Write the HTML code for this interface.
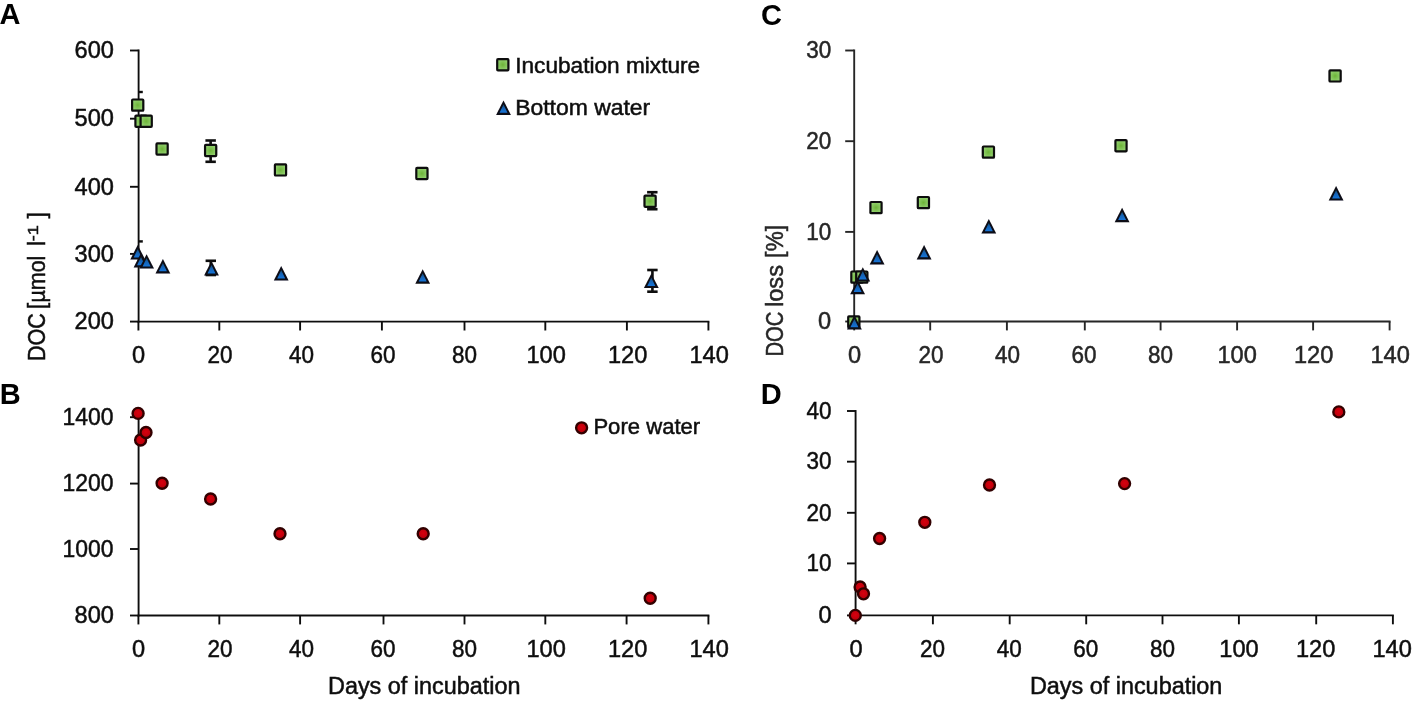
<!DOCTYPE html>
<html><head><meta charset="utf-8"><title>Figure</title>
<style>html,body{margin:0;padding:0;background:#fff;}svg{display:block;}text{font-family:'Liberation Sans', sans-serif;}</style>
</head><body>
<svg width="1418" height="707" viewBox="0 0 1418 707">
<defs>
<radialGradient id="gg" cx="50%" cy="50%" r="70%"><stop offset="0" stop-color="#6db438"/><stop offset="1" stop-color="#a2dc86"/></radialGradient>
<linearGradient id="bg" x1="0" y1="0" x2="0" y2="1"><stop offset="0" stop-color="#164a70"/><stop offset="0.45" stop-color="#1463b4"/><stop offset="1" stop-color="#1674d8"/></linearGradient>
<radialGradient id="rg" cx="50%" cy="45%" r="60%"><stop offset="0" stop-color="#d8000a"/><stop offset="1" stop-color="#b00008"/></radialGradient>
<filter id="bl" x="0" y="0" width="1418" height="707" filterUnits="userSpaceOnUse"><feGaussianBlur stdDeviation="0.7"/></filter>
</defs>
<rect width="1418" height="707" fill="#fff"/>
<g filter="url(#bl)">
<text x="-0.60" y="24.40" font-size="29" text-anchor="start" fill="#000" font-weight="bold">A</text>
<text x="-0.20" y="403.60" font-size="29" text-anchor="start" fill="#000" font-weight="bold">B</text>
<text x="760.90" y="24.70" font-size="29" text-anchor="start" fill="#000" font-weight="bold">C</text>
<text x="760.80" y="403.60" font-size="29" text-anchor="start" fill="#000" font-weight="bold">D</text>
<line x1="138.60" y1="49.55" x2="138.60" y2="322.55" stroke="#111" stroke-width="1.9" stroke-linecap="butt"/>
<line x1="137.65" y1="321.60" x2="709.35" y2="321.60" stroke="#111" stroke-width="1.9" stroke-linecap="butt"/>
<line x1="130.00" y1="50.50" x2="138.60" y2="50.50" stroke="#111" stroke-width="1.9" stroke-linecap="butt"/>
<text x="113.90" y="58.20" font-size="23.6" text-anchor="end" fill="#111" font-weight="normal" stroke="#111" stroke-width="0.5">600</text>
<line x1="130.00" y1="118.70" x2="138.60" y2="118.70" stroke="#111" stroke-width="1.9" stroke-linecap="butt"/>
<text x="113.90" y="126.40" font-size="23.6" text-anchor="end" fill="#111" font-weight="normal" stroke="#111" stroke-width="0.5">500</text>
<line x1="130.00" y1="186.80" x2="138.60" y2="186.80" stroke="#111" stroke-width="1.9" stroke-linecap="butt"/>
<text x="113.90" y="194.50" font-size="23.6" text-anchor="end" fill="#111" font-weight="normal" stroke="#111" stroke-width="0.5">400</text>
<line x1="130.00" y1="253.90" x2="138.60" y2="253.90" stroke="#111" stroke-width="1.9" stroke-linecap="butt"/>
<text x="113.90" y="261.60" font-size="23.6" text-anchor="end" fill="#111" font-weight="normal" stroke="#111" stroke-width="0.5">300</text>
<line x1="130.00" y1="321.60" x2="138.60" y2="321.60" stroke="#111" stroke-width="1.9" stroke-linecap="butt"/>
<text x="113.90" y="329.30" font-size="23.6" text-anchor="end" fill="#111" font-weight="normal" stroke="#111" stroke-width="0.5">200</text>
<line x1="138.40" y1="321.60" x2="138.40" y2="330.50" stroke="#111" stroke-width="1.9" stroke-linecap="butt"/>
<text x="138.60" y="363.30" font-size="23.6" text-anchor="middle" fill="#111" font-weight="normal" stroke="#111" stroke-width="0.5">0</text>
<line x1="219.30" y1="321.60" x2="219.30" y2="330.50" stroke="#111" stroke-width="1.9" stroke-linecap="butt"/>
<text x="220.10" y="363.30" font-size="23.6" text-anchor="middle" fill="#111" font-weight="normal" stroke="#111" stroke-width="0.5" textLength="25.0" lengthAdjust="spacingAndGlyphs">20</text>
<line x1="300.10" y1="321.60" x2="300.10" y2="330.50" stroke="#111" stroke-width="1.9" stroke-linecap="butt"/>
<text x="301.60" y="363.30" font-size="23.6" text-anchor="middle" fill="#111" font-weight="normal" stroke="#111" stroke-width="0.5" textLength="25.0" lengthAdjust="spacingAndGlyphs">40</text>
<line x1="381.90" y1="321.60" x2="381.90" y2="330.50" stroke="#111" stroke-width="1.9" stroke-linecap="butt"/>
<text x="383.10" y="363.30" font-size="23.6" text-anchor="middle" fill="#111" font-weight="normal" stroke="#111" stroke-width="0.5" textLength="25.0" lengthAdjust="spacingAndGlyphs">60</text>
<line x1="464.50" y1="321.60" x2="464.50" y2="330.50" stroke="#111" stroke-width="1.9" stroke-linecap="butt"/>
<text x="464.60" y="363.30" font-size="23.6" text-anchor="middle" fill="#111" font-weight="normal" stroke="#111" stroke-width="0.5" textLength="25.0" lengthAdjust="spacingAndGlyphs">80</text>
<line x1="545.30" y1="321.60" x2="545.30" y2="330.50" stroke="#111" stroke-width="1.9" stroke-linecap="butt"/>
<text x="546.10" y="363.30" font-size="23.6" text-anchor="middle" fill="#111" font-weight="normal" stroke="#111" stroke-width="0.5">100</text>
<line x1="626.90" y1="321.60" x2="626.90" y2="330.50" stroke="#111" stroke-width="1.9" stroke-linecap="butt"/>
<text x="627.60" y="363.30" font-size="23.6" text-anchor="middle" fill="#111" font-weight="normal" stroke="#111" stroke-width="0.5">120</text>
<line x1="708.40" y1="321.60" x2="708.40" y2="330.50" stroke="#111" stroke-width="1.9" stroke-linecap="butt"/>
<text x="709.10" y="363.30" font-size="23.6" text-anchor="middle" fill="#111" font-weight="normal" stroke="#111" stroke-width="0.5">140</text>
<g transform="translate(44.6,360.0) rotate(-90)" fill="#111" stroke="#111" stroke-width="0.5">
<text x="-1.0" y="0" font-size="23.0" textLength="47.8" lengthAdjust="spacingAndGlyphs">DOC</text>
<text x="50.7" y="0" font-size="23.0">[</text>
<text x="57.4" y="0" font-size="23.0" textLength="47.0" lengthAdjust="spacingAndGlyphs">µmol</text>
<text x="113.9" y="0" font-size="23.0">l</text>
<text x="118.8" y="-6.7" font-size="15" textLength="16.0" lengthAdjust="spacingAndGlyphs">-1</text>
<text x="141.5" y="0" font-size="23.0">]</text>
</g>
<line x1="138.60" y1="92.00" x2="142.80" y2="92.00" stroke="#0a0a0a" stroke-width="2.4" stroke-linecap="butt"/>
<line x1="210.65" y1="140.50" x2="210.65" y2="161.80" stroke="#0a0a0a" stroke-width="2.6" stroke-linecap="butt"/>
<line x1="205.45" y1="140.50" x2="215.85" y2="140.50" stroke="#0a0a0a" stroke-width="2.6" stroke-linecap="butt"/>
<line x1="205.45" y1="161.80" x2="215.85" y2="161.80" stroke="#0a0a0a" stroke-width="2.6" stroke-linecap="butt"/>
<line x1="652.30" y1="192.20" x2="652.30" y2="209.20" stroke="#0a0a0a" stroke-width="2.6" stroke-linecap="butt"/>
<line x1="647.10" y1="192.20" x2="657.50" y2="192.20" stroke="#0a0a0a" stroke-width="2.6" stroke-linecap="butt"/>
<line x1="647.10" y1="209.20" x2="657.50" y2="209.20" stroke="#0a0a0a" stroke-width="2.6" stroke-linecap="butt"/>
<rect x="132.10" y="99.50" width="11.2" height="11.2" rx="0.8" fill="url(#gg)" stroke="#0a0a0a" stroke-width="2.2"/>
<rect x="135.40" y="115.60" width="11.2" height="11.2" rx="0.8" fill="url(#gg)" stroke="#0a0a0a" stroke-width="2.2"/>
<rect x="140.60" y="115.60" width="11.2" height="11.2" rx="0.8" fill="url(#gg)" stroke="#0a0a0a" stroke-width="2.2"/>
<rect x="156.50" y="143.40" width="11.2" height="11.2" rx="0.8" fill="url(#gg)" stroke="#0a0a0a" stroke-width="2.2"/>
<rect x="205.05" y="144.95" width="11.2" height="11.2" rx="0.8" fill="url(#gg)" stroke="#0a0a0a" stroke-width="2.2"/>
<rect x="274.90" y="164.30" width="11.2" height="11.2" rx="0.8" fill="url(#gg)" stroke="#0a0a0a" stroke-width="2.2"/>
<rect x="416.30" y="167.90" width="11.2" height="11.2" rx="0.8" fill="url(#gg)" stroke="#0a0a0a" stroke-width="2.2"/>
<rect x="644.50" y="195.60" width="11.2" height="11.2" rx="0.8" fill="url(#gg)" stroke="#0a0a0a" stroke-width="2.2"/>
<line x1="138.60" y1="241.40" x2="142.80" y2="241.40" stroke="#0a0a0a" stroke-width="2.4" stroke-linecap="butt"/>
<line x1="210.80" y1="260.80" x2="210.80" y2="275.00" stroke="#0a0a0a" stroke-width="2.6" stroke-linecap="butt"/>
<line x1="205.60" y1="260.80" x2="216.00" y2="260.80" stroke="#0a0a0a" stroke-width="2.6" stroke-linecap="butt"/>
<line x1="205.60" y1="275.00" x2="216.00" y2="275.00" stroke="#0a0a0a" stroke-width="2.6" stroke-linecap="butt"/>
<line x1="652.40" y1="270.00" x2="652.40" y2="291.70" stroke="#0a0a0a" stroke-width="2.6" stroke-linecap="butt"/>
<line x1="647.20" y1="270.00" x2="657.60" y2="270.00" stroke="#0a0a0a" stroke-width="2.6" stroke-linecap="butt"/>
<line x1="647.20" y1="291.70" x2="657.60" y2="291.70" stroke="#0a0a0a" stroke-width="2.6" stroke-linecap="butt"/>
<polygon points="137.70,245.10 130.30,259.50 145.10,259.50" fill="#0b0b14"/>
<polygon points="137.70,249.00 133.70,257.40 141.70,257.40" fill="url(#bg)"/>
<polygon points="141.00,253.00 133.60,267.40 148.40,267.40" fill="#0b0b14"/>
<polygon points="141.00,256.90 137.00,265.30 145.00,265.30" fill="url(#bg)"/>
<polygon points="146.60,254.20 139.20,268.60 154.00,268.60" fill="#0b0b14"/>
<polygon points="146.60,258.10 142.60,266.50 150.60,266.50" fill="url(#bg)"/>
<polygon points="162.90,259.00 155.50,273.40 170.30,273.40" fill="#0b0b14"/>
<polygon points="162.90,262.90 158.90,271.30 166.90,271.30" fill="url(#bg)"/>
<polygon points="211.50,261.10 204.10,275.50 218.90,275.50" fill="#0b0b14"/>
<polygon points="211.50,265.00 207.50,273.40 215.50,273.40" fill="url(#bg)"/>
<polygon points="281.20,266.10 273.80,280.50 288.60,280.50" fill="#0b0b14"/>
<polygon points="281.20,270.00 277.20,278.40 285.20,278.40" fill="url(#bg)"/>
<polygon points="422.70,269.30 415.30,283.70 430.10,283.70" fill="#0b0b14"/>
<polygon points="422.70,273.20 418.70,281.60 426.70,281.60" fill="url(#bg)"/>
<polygon points="651.30,273.70 643.90,288.10 658.70,288.10" fill="#0b0b14"/>
<polygon points="651.30,277.60 647.30,286.00 655.30,286.00" fill="url(#bg)"/>
<rect x="497.20" y="59.10" width="11.2" height="11.2" rx="0.8" fill="url(#gg)" stroke="#0a0a0a" stroke-width="2.2"/>
<text x="515.20" y="72.80" font-size="21.6" text-anchor="start" fill="#111" font-weight="normal" stroke="#111" stroke-width="0.5" textLength="185.0" lengthAdjust="spacingAndGlyphs">Incubation mixture</text>
<polygon points="503.50,100.50 496.10,114.90 510.90,114.90" fill="#0b0b14"/>
<polygon points="503.50,104.40 499.50,112.80 507.50,112.80" fill="url(#bg)"/>
<text x="515.20" y="114.90" font-size="21.6" text-anchor="start" fill="#111" font-weight="normal" stroke="#111" stroke-width="0.5" textLength="135.0" lengthAdjust="spacingAndGlyphs">Bottom water</text>
<line x1="138.60" y1="416.05" x2="138.60" y2="616.45" stroke="#111" stroke-width="1.9" stroke-linecap="butt"/>
<line x1="137.65" y1="615.50" x2="709.35" y2="615.50" stroke="#111" stroke-width="1.9" stroke-linecap="butt"/>
<line x1="130.00" y1="417.20" x2="138.60" y2="417.20" stroke="#111" stroke-width="1.9" stroke-linecap="butt"/>
<text x="113.40" y="424.90" font-size="23.6" text-anchor="end" fill="#111" font-weight="normal" stroke="#111" stroke-width="0.5" textLength="51.0" lengthAdjust="spacingAndGlyphs">1400</text>
<line x1="130.00" y1="483.60" x2="138.60" y2="483.60" stroke="#111" stroke-width="1.9" stroke-linecap="butt"/>
<text x="113.40" y="491.30" font-size="23.6" text-anchor="end" fill="#111" font-weight="normal" stroke="#111" stroke-width="0.5" textLength="51.0" lengthAdjust="spacingAndGlyphs">1200</text>
<line x1="130.00" y1="549.00" x2="138.60" y2="549.00" stroke="#111" stroke-width="1.9" stroke-linecap="butt"/>
<text x="113.40" y="556.70" font-size="23.6" text-anchor="end" fill="#111" font-weight="normal" stroke="#111" stroke-width="0.5" textLength="51.0" lengthAdjust="spacingAndGlyphs">1000</text>
<line x1="130.00" y1="615.50" x2="138.60" y2="615.50" stroke="#111" stroke-width="1.9" stroke-linecap="butt"/>
<text x="113.90" y="623.20" font-size="23.6" text-anchor="end" fill="#111" font-weight="normal" stroke="#111" stroke-width="0.5">800</text>
<line x1="138.40" y1="615.50" x2="138.40" y2="624.40" stroke="#111" stroke-width="1.9" stroke-linecap="butt"/>
<text x="138.60" y="656.80" font-size="23.6" text-anchor="middle" fill="#111" font-weight="normal" stroke="#111" stroke-width="0.5">0</text>
<line x1="219.30" y1="615.50" x2="219.30" y2="624.40" stroke="#111" stroke-width="1.9" stroke-linecap="butt"/>
<text x="220.10" y="656.80" font-size="23.6" text-anchor="middle" fill="#111" font-weight="normal" stroke="#111" stroke-width="0.5" textLength="25.0" lengthAdjust="spacingAndGlyphs">20</text>
<line x1="300.10" y1="615.50" x2="300.10" y2="624.40" stroke="#111" stroke-width="1.9" stroke-linecap="butt"/>
<text x="301.60" y="656.80" font-size="23.6" text-anchor="middle" fill="#111" font-weight="normal" stroke="#111" stroke-width="0.5" textLength="25.0" lengthAdjust="spacingAndGlyphs">40</text>
<line x1="383.50" y1="615.50" x2="383.50" y2="624.40" stroke="#111" stroke-width="1.9" stroke-linecap="butt"/>
<text x="383.10" y="656.80" font-size="23.6" text-anchor="middle" fill="#111" font-weight="normal" stroke="#111" stroke-width="0.5" textLength="25.0" lengthAdjust="spacingAndGlyphs">60</text>
<line x1="464.50" y1="615.50" x2="464.50" y2="624.40" stroke="#111" stroke-width="1.9" stroke-linecap="butt"/>
<text x="464.60" y="656.80" font-size="23.6" text-anchor="middle" fill="#111" font-weight="normal" stroke="#111" stroke-width="0.5" textLength="25.0" lengthAdjust="spacingAndGlyphs">80</text>
<line x1="545.30" y1="615.50" x2="545.30" y2="624.40" stroke="#111" stroke-width="1.9" stroke-linecap="butt"/>
<text x="546.10" y="656.80" font-size="23.6" text-anchor="middle" fill="#111" font-weight="normal" stroke="#111" stroke-width="0.5">100</text>
<line x1="626.60" y1="615.50" x2="626.60" y2="624.40" stroke="#111" stroke-width="1.9" stroke-linecap="butt"/>
<text x="627.60" y="656.80" font-size="23.6" text-anchor="middle" fill="#111" font-weight="normal" stroke="#111" stroke-width="0.5">120</text>
<line x1="708.40" y1="615.50" x2="708.40" y2="624.40" stroke="#111" stroke-width="1.9" stroke-linecap="butt"/>
<text x="709.10" y="656.80" font-size="23.6" text-anchor="middle" fill="#111" font-weight="normal" stroke="#111" stroke-width="0.5">140</text>
<circle cx="138.10" cy="413.40" r="5.5" fill="url(#rg)" stroke="#300000" stroke-width="2.35"/>
<circle cx="140.60" cy="440.00" r="5.5" fill="url(#rg)" stroke="#300000" stroke-width="2.35"/>
<circle cx="146.00" cy="432.50" r="5.5" fill="url(#rg)" stroke="#300000" stroke-width="2.35"/>
<circle cx="162.10" cy="483.20" r="5.5" fill="url(#rg)" stroke="#300000" stroke-width="2.35"/>
<circle cx="210.60" cy="499.00" r="5.5" fill="url(#rg)" stroke="#300000" stroke-width="2.35"/>
<circle cx="280.00" cy="533.70" r="5.5" fill="url(#rg)" stroke="#300000" stroke-width="2.35"/>
<circle cx="423.20" cy="533.70" r="5.5" fill="url(#rg)" stroke="#300000" stroke-width="2.35"/>
<circle cx="650.20" cy="598.20" r="5.5" fill="url(#rg)" stroke="#300000" stroke-width="2.35"/>
<circle cx="581.60" cy="427.80" r="5.5" fill="url(#rg)" stroke="#300000" stroke-width="2.35"/>
<text x="593.40" y="434.20" font-size="21.6" text-anchor="start" fill="#111" font-weight="normal" stroke="#111" stroke-width="0.5" textLength="106.8" lengthAdjust="spacingAndGlyphs">Pore water</text>
<text x="328.00" y="693.80" font-size="23.0" text-anchor="start" fill="#111" font-weight="normal" stroke="#111" stroke-width="0.5" textLength="192.5" lengthAdjust="spacingAndGlyphs">Days of incubation</text>
<line x1="854.20" y1="49.55" x2="854.20" y2="322.45" stroke="#262626" stroke-width="1.9" stroke-linecap="butt"/>
<line x1="853.25" y1="321.50" x2="1390.55" y2="321.50" stroke="#262626" stroke-width="1.9" stroke-linecap="butt"/>
<line x1="845.20" y1="50.50" x2="854.20" y2="50.50" stroke="#262626" stroke-width="1.9" stroke-linecap="butt"/>
<text x="831.20" y="58.20" font-size="23.6" text-anchor="end" fill="#262626" font-weight="normal" stroke="#262626" stroke-width="0.5" textLength="25.0" lengthAdjust="spacingAndGlyphs">30</text>
<line x1="845.20" y1="141.20" x2="854.20" y2="141.20" stroke="#262626" stroke-width="1.9" stroke-linecap="butt"/>
<text x="831.20" y="148.90" font-size="23.6" text-anchor="end" fill="#262626" font-weight="normal" stroke="#262626" stroke-width="0.5" textLength="25.0" lengthAdjust="spacingAndGlyphs">20</text>
<line x1="845.20" y1="231.90" x2="854.20" y2="231.90" stroke="#262626" stroke-width="1.9" stroke-linecap="butt"/>
<text x="831.20" y="239.60" font-size="23.6" text-anchor="end" fill="#262626" font-weight="normal" stroke="#262626" stroke-width="0.5" textLength="25.0" lengthAdjust="spacingAndGlyphs">10</text>
<line x1="845.20" y1="321.50" x2="854.20" y2="321.50" stroke="#262626" stroke-width="1.9" stroke-linecap="butt"/>
<text x="831.20" y="329.20" font-size="23.6" text-anchor="end" fill="#262626" font-weight="normal" stroke="#262626" stroke-width="0.5">0</text>
<line x1="854.20" y1="321.50" x2="854.20" y2="330.40" stroke="#262626" stroke-width="1.9" stroke-linecap="butt"/>
<text x="854.60" y="363.30" font-size="23.6" text-anchor="middle" fill="#262626" font-weight="normal" stroke="#262626" stroke-width="0.5">0</text>
<line x1="930.20" y1="321.50" x2="930.20" y2="330.40" stroke="#262626" stroke-width="1.9" stroke-linecap="butt"/>
<text x="931.10" y="363.30" font-size="23.6" text-anchor="middle" fill="#262626" font-weight="normal" stroke="#262626" stroke-width="0.5" textLength="25.0" lengthAdjust="spacingAndGlyphs">20</text>
<line x1="1006.90" y1="321.50" x2="1006.90" y2="330.40" stroke="#262626" stroke-width="1.9" stroke-linecap="butt"/>
<text x="1007.60" y="363.30" font-size="23.6" text-anchor="middle" fill="#262626" font-weight="normal" stroke="#262626" stroke-width="0.5" textLength="25.0" lengthAdjust="spacingAndGlyphs">40</text>
<line x1="1084.80" y1="321.50" x2="1084.80" y2="330.40" stroke="#262626" stroke-width="1.9" stroke-linecap="butt"/>
<text x="1084.10" y="363.30" font-size="23.6" text-anchor="middle" fill="#262626" font-weight="normal" stroke="#262626" stroke-width="0.5" textLength="25.0" lengthAdjust="spacingAndGlyphs">60</text>
<line x1="1160.60" y1="321.50" x2="1160.60" y2="330.40" stroke="#262626" stroke-width="1.9" stroke-linecap="butt"/>
<text x="1160.60" y="363.30" font-size="23.6" text-anchor="middle" fill="#262626" font-weight="normal" stroke="#262626" stroke-width="0.5" textLength="25.0" lengthAdjust="spacingAndGlyphs">80</text>
<line x1="1237.10" y1="321.50" x2="1237.10" y2="330.40" stroke="#262626" stroke-width="1.9" stroke-linecap="butt"/>
<text x="1237.10" y="363.30" font-size="23.6" text-anchor="middle" fill="#262626" font-weight="normal" stroke="#262626" stroke-width="0.5">100</text>
<line x1="1313.10" y1="321.50" x2="1313.10" y2="330.40" stroke="#262626" stroke-width="1.9" stroke-linecap="butt"/>
<text x="1313.60" y="363.30" font-size="23.6" text-anchor="middle" fill="#262626" font-weight="normal" stroke="#262626" stroke-width="0.5">120</text>
<line x1="1389.60" y1="321.50" x2="1389.60" y2="330.40" stroke="#262626" stroke-width="1.9" stroke-linecap="butt"/>
<text x="1390.10" y="363.30" font-size="23.6" text-anchor="middle" fill="#262626" font-weight="normal" stroke="#262626" stroke-width="0.5">140</text>
<g transform="translate(783.0,355.5) rotate(-90)" fill="#262626" stroke="#262626" stroke-width="0.5">
<text x="-1.0" y="0" font-size="23.0" textLength="45.0" lengthAdjust="spacingAndGlyphs">DOC</text>
<text x="48.8" y="0" font-size="23.0">l</text>
<text x="53.7" y="0" font-size="23.0" textLength="36.8" lengthAdjust="spacingAndGlyphs">oss</text>
<text x="97.5" y="0" font-size="23.0">[</text>
<text x="104.2" y="0" font-size="23.0" textLength="20.0" lengthAdjust="spacingAndGlyphs">%</text>
<text x="124.2" y="0" font-size="23.0">]</text>
</g>
<rect x="848.20" y="316.30" width="11.2" height="11.2" rx="0.8" fill="url(#gg)" stroke="#0a0a0a" stroke-width="2.2"/>
<rect x="851.30" y="271.50" width="11.2" height="11.2" rx="0.8" fill="url(#gg)" stroke="#0a0a0a" stroke-width="2.2"/>
<rect x="856.20" y="271.50" width="11.2" height="11.2" rx="0.8" fill="url(#gg)" stroke="#0a0a0a" stroke-width="2.2"/>
<rect x="870.40" y="202.00" width="11.2" height="11.2" rx="0.8" fill="url(#gg)" stroke="#0a0a0a" stroke-width="2.2"/>
<rect x="917.80" y="197.00" width="11.2" height="11.2" rx="0.8" fill="url(#gg)" stroke="#0a0a0a" stroke-width="2.2"/>
<rect x="982.80" y="146.50" width="11.2" height="11.2" rx="0.8" fill="url(#gg)" stroke="#0a0a0a" stroke-width="2.2"/>
<rect x="1115.40" y="140.10" width="11.2" height="11.2" rx="0.8" fill="url(#gg)" stroke="#0a0a0a" stroke-width="2.2"/>
<rect x="1329.50" y="70.30" width="11.2" height="11.2" rx="0.8" fill="url(#gg)" stroke="#0a0a0a" stroke-width="2.2"/>
<polygon points="854.40,315.00 847.00,329.40 861.80,329.40" fill="#0b0b14"/>
<polygon points="854.40,318.90 850.40,327.30 858.40,327.30" fill="url(#bg)"/>
<polygon points="857.60,279.80 850.20,294.20 865.00,294.20" fill="#0b0b14"/>
<polygon points="857.60,283.70 853.60,292.10 861.60,292.10" fill="url(#bg)"/>
<polygon points="862.80,267.20 855.40,281.60 870.20,281.60" fill="#0b0b14"/>
<polygon points="862.80,271.10 858.80,279.50 866.80,279.50" fill="url(#bg)"/>
<polygon points="877.10,250.00 869.70,264.40 884.50,264.40" fill="#0b0b14"/>
<polygon points="877.10,253.90 873.10,262.30 881.10,262.30" fill="url(#bg)"/>
<polygon points="924.10,245.00 916.70,259.40 931.50,259.40" fill="#0b0b14"/>
<polygon points="924.10,248.90 920.10,257.30 928.10,257.30" fill="url(#bg)"/>
<polygon points="988.80,219.00 981.40,233.40 996.20,233.40" fill="#0b0b14"/>
<polygon points="988.80,222.90 984.80,231.30 992.80,231.30" fill="url(#bg)"/>
<polygon points="1122.10,207.80 1114.70,222.20 1129.50,222.20" fill="#0b0b14"/>
<polygon points="1122.10,211.70 1118.10,220.10 1126.10,220.10" fill="url(#bg)"/>
<polygon points="1336.10,186.10 1328.70,200.50 1343.50,200.50" fill="#0b0b14"/>
<polygon points="1336.10,190.00 1332.10,198.40 1340.10,198.40" fill="url(#bg)"/>
<line x1="855.60" y1="410.05" x2="855.60" y2="616.35" stroke="#111" stroke-width="1.9" stroke-linecap="butt"/>
<line x1="854.65" y1="615.40" x2="1393.85" y2="615.40" stroke="#111" stroke-width="1.9" stroke-linecap="butt"/>
<line x1="847.00" y1="411.00" x2="855.60" y2="411.00" stroke="#111" stroke-width="1.9" stroke-linecap="butt"/>
<text x="831.60" y="418.70" font-size="23.6" text-anchor="end" fill="#111" font-weight="normal" stroke="#111" stroke-width="0.5" textLength="25.0" lengthAdjust="spacingAndGlyphs">40</text>
<line x1="847.00" y1="461.70" x2="855.60" y2="461.70" stroke="#111" stroke-width="1.9" stroke-linecap="butt"/>
<text x="831.60" y="469.40" font-size="23.6" text-anchor="end" fill="#111" font-weight="normal" stroke="#111" stroke-width="0.5" textLength="25.0" lengthAdjust="spacingAndGlyphs">30</text>
<line x1="847.00" y1="512.80" x2="855.60" y2="512.80" stroke="#111" stroke-width="1.9" stroke-linecap="butt"/>
<text x="831.60" y="520.50" font-size="23.6" text-anchor="end" fill="#111" font-weight="normal" stroke="#111" stroke-width="0.5" textLength="25.0" lengthAdjust="spacingAndGlyphs">20</text>
<line x1="847.00" y1="563.40" x2="855.60" y2="563.40" stroke="#111" stroke-width="1.9" stroke-linecap="butt"/>
<text x="831.60" y="571.10" font-size="23.6" text-anchor="end" fill="#111" font-weight="normal" stroke="#111" stroke-width="0.5" textLength="25.0" lengthAdjust="spacingAndGlyphs">10</text>
<line x1="847.00" y1="615.40" x2="855.60" y2="615.40" stroke="#111" stroke-width="1.9" stroke-linecap="butt"/>
<text x="831.60" y="623.10" font-size="23.6" text-anchor="end" fill="#111" font-weight="normal" stroke="#111" stroke-width="0.5">0</text>
<line x1="855.60" y1="615.40" x2="855.60" y2="624.30" stroke="#111" stroke-width="1.9" stroke-linecap="butt"/>
<text x="856.00" y="656.80" font-size="23.6" text-anchor="middle" fill="#111" font-weight="normal" stroke="#111" stroke-width="0.5">0</text>
<line x1="932.90" y1="615.40" x2="932.90" y2="624.30" stroke="#111" stroke-width="1.9" stroke-linecap="butt"/>
<text x="932.60" y="656.80" font-size="23.6" text-anchor="middle" fill="#111" font-weight="normal" stroke="#111" stroke-width="0.5" textLength="25.0" lengthAdjust="spacingAndGlyphs">20</text>
<line x1="1009.70" y1="615.40" x2="1009.70" y2="624.30" stroke="#111" stroke-width="1.9" stroke-linecap="butt"/>
<text x="1009.20" y="656.80" font-size="23.6" text-anchor="middle" fill="#111" font-weight="normal" stroke="#111" stroke-width="0.5" textLength="25.0" lengthAdjust="spacingAndGlyphs">40</text>
<line x1="1086.20" y1="615.40" x2="1086.20" y2="624.30" stroke="#111" stroke-width="1.9" stroke-linecap="butt"/>
<text x="1085.80" y="656.80" font-size="23.6" text-anchor="middle" fill="#111" font-weight="normal" stroke="#111" stroke-width="0.5" textLength="25.0" lengthAdjust="spacingAndGlyphs">60</text>
<line x1="1162.50" y1="615.40" x2="1162.50" y2="624.30" stroke="#111" stroke-width="1.9" stroke-linecap="butt"/>
<text x="1162.40" y="656.80" font-size="23.6" text-anchor="middle" fill="#111" font-weight="normal" stroke="#111" stroke-width="0.5" textLength="25.0" lengthAdjust="spacingAndGlyphs">80</text>
<line x1="1238.90" y1="615.40" x2="1238.90" y2="624.30" stroke="#111" stroke-width="1.9" stroke-linecap="butt"/>
<text x="1239.00" y="656.80" font-size="23.6" text-anchor="middle" fill="#111" font-weight="normal" stroke="#111" stroke-width="0.5">100</text>
<line x1="1316.20" y1="615.40" x2="1316.20" y2="624.30" stroke="#111" stroke-width="1.9" stroke-linecap="butt"/>
<text x="1315.60" y="656.80" font-size="23.6" text-anchor="middle" fill="#111" font-weight="normal" stroke="#111" stroke-width="0.5">120</text>
<line x1="1392.90" y1="615.40" x2="1392.90" y2="624.30" stroke="#111" stroke-width="1.9" stroke-linecap="butt"/>
<text x="1392.20" y="656.80" font-size="23.6" text-anchor="middle" fill="#111" font-weight="normal" stroke="#111" stroke-width="0.5">140</text>
<circle cx="855.30" cy="615.40" r="5.5" fill="url(#rg)" stroke="#300000" stroke-width="2.35"/>
<circle cx="860.10" cy="587.00" r="5.5" fill="url(#rg)" stroke="#300000" stroke-width="2.35"/>
<circle cx="863.50" cy="593.80" r="5.5" fill="url(#rg)" stroke="#300000" stroke-width="2.35"/>
<circle cx="879.60" cy="538.50" r="5.5" fill="url(#rg)" stroke="#300000" stroke-width="2.35"/>
<circle cx="924.80" cy="522.30" r="5.5" fill="url(#rg)" stroke="#300000" stroke-width="2.35"/>
<circle cx="989.50" cy="485.00" r="5.5" fill="url(#rg)" stroke="#300000" stroke-width="2.35"/>
<circle cx="1124.60" cy="483.60" r="5.5" fill="url(#rg)" stroke="#300000" stroke-width="2.35"/>
<circle cx="1338.80" cy="411.90" r="5.5" fill="url(#rg)" stroke="#300000" stroke-width="2.35"/>
<text x="1029.90" y="693.80" font-size="23.0" text-anchor="start" fill="#111" font-weight="normal" stroke="#111" stroke-width="0.5" textLength="192.5" lengthAdjust="spacingAndGlyphs">Days of incubation</text>
</g>
</svg>
</body></html>
